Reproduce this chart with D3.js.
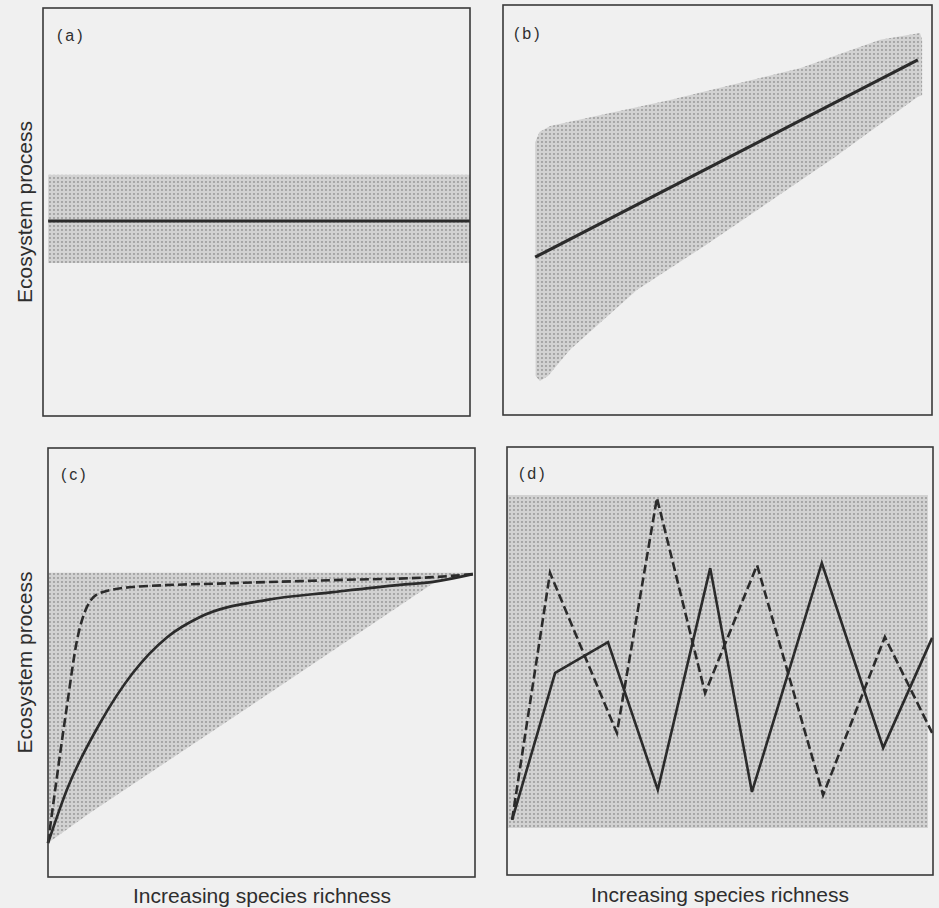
<!DOCTYPE html>
<html>
<head>
<meta charset="utf-8">
<script src="https://cdn.jsdelivr.net/npm/d3@7"></script>
<style>
  html, body { margin: 0; padding: 0; background: #f0f0f0; }
  svg { display: block; }
  text { font-family: "Liberation Sans", Arial, sans-serif; fill: #2e2e2e; }
</style>
</head>
<body>
<svg id="chart" width="939" height="908"></svg>
<script>
// ---- data (x: species richness 0-100, y: ecosystem process 0-100) ----
const panelLabels = ["(a)", "(b)", "(c)", "(d)"];
const yAxisLabel = "Ecosystem process";
const xAxisLabel = "Increasing species richness";

// (a) constant process, constant spread
const bandA = [{x: 1.2, lo: 37.5, hi: 59.1}, {x: 100, lo: 37.5, hi: 59.1}];
const lineA = [{x: 1.2, y: 47.8}, {x: 100, y: 47.8}];

// (b) linear increase with wide spread
const bandBUpper = [{x: 7.5, y: 66.5}, {x: 8.5, y: 69.0}, {x: 11.0, y: 70.5}, {x: 38.9, y: 76.8}, {x: 69.2, y: 84.6}, {x: 87.9, y: 91.5}, {x: 97.2, y: 93.2}, {x: 97.7, y: 91.5}];
const bandBLower = [{x: 97.7, y: 78.0}, {x: 96.7, y: 77.6}, {x: 77.4, y: 62.9}, {x: 46.6, y: 41.0}, {x: 31.2, y: 30.5}, {x: 15.6, y: 15.9}, {x: 10.5, y: 9.5}, {x: 8.6, y: 8.3}, {x: 7.6, y: 9.5}];
const lineB = [{x: 7.5, y: 38.5}, {x: 96.7, y: 86.6}];

// (c) saturating curves
const bandCUpper = [{x: 0, y: 70.9}, {x: 99.5, y: 70.9}];
const bandCLower = [{x: 99.5, y: 70.9}, {x: 90.2, y: 68.5}, {x: 59.0, y: 47.6}, {x: 9.8, y: 14.9}, {x: 0, y: 7.9}];
const solidC = [{x: 0, y: 7.9}, {x: 4.4, y: 20.3}, {x: 12.2, y: 35.9}, {x: 19.9, y: 47.6}, {x: 27.9, y: 55.9}, {x: 35.6, y: 60.6}, {x: 51.3, y: 64.6}, {x: 66.7, y: 66.4}, {x: 82.4, y: 68.1}, {x: 90.2, y: 68.8}, {x: 99.5, y: 70.6}];
const dashedC = [{x: 0, y: 7.9}, {x: 4.4, y: 39.6}, {x: 6.8, y: 55.2}, {x: 9.1, y: 62.9}, {x: 12.2, y: 66.2}, {x: 19.9, y: 67.6}, {x: 43.3, y: 68.5}, {x: 66.7, y: 69.2}, {x: 90.2, y: 69.9}, {x: 99.5, y: 70.6}];

// (d) idiosyncratic
const bandD = [{x: 0, lo: 11.0, hi: 88.8}, {x: 98.8, lo: 11.0, hi: 88.8}];
const solidD = [{x: 1.2, y: 12.9}, {x: 11.3, y: 47.2}, {x: 23.7, y: 54.4}, {x: 35.4, y: 19.9}, {x: 47.7, y: 71.7}, {x: 57.5, y: 19.4}, {x: 73.9, y: 72.9}, {x: 88.3, y: 29.7}, {x: 99.8, y: 55.4}];
const dashedD = [{x: 1.2, y: 12.9}, {x: 10.1, y: 70.6}, {x: 25.8, y: 33.2}, {x: 35.2, y: 88.1}, {x: 46.5, y: 42.5}, {x: 58.7, y: 72.4}, {x: 74.2, y: 18.7}, {x: 88.7, y: 55.6}, {x: 99.8, y: 33.2}];

// ---- layout ----
const frames = [
  {x0: 43, x1: 470, y0: 8, y1: 416},
  {x0: 503, x1: 932, y0: 5, y1: 415},
  {x0: 48, x1: 475, y0: 448, y1: 877},
  {x0: 507, x1: 933, y0: 447, y1: 875}
];
const labelPos = [[57, 41], [514, 39], [61, 480], [519, 479]];

const svg = d3.select("#chart");
const defs = svg.append("defs");
const pat = defs.append("pattern").attr("id", "stipple")
  .attr("patternUnits", "userSpaceOnUse").attr("width", 4).attr("height", 4);
pat.append("rect").attr("width", 4).attr("height", 4).attr("fill", "#d2d2d2");
pat.append("circle").attr("cx", 2).attr("cy", 2).attr("r", 1.05).attr("fill", "#9c9c9c");

svg.append("rect").attr("width", 939).attr("height", 908).attr("fill", "#f0f0f0");

const lineColor = "#2b2b2b";

function makeScales(f) {
  return {
    x: d3.scaleLinear().domain([0, 100]).range([f.x0, f.x1]),
    y: d3.scaleLinear().domain([0, 100]).range([f.y1, f.y0])
  };
}

frames.forEach((f, i) => {
  const s = makeScales(f);
  const g = svg.append("g");

  // bands
  if (i === 0 || i === 3) {
    const band = i === 0 ? bandA : bandD;
    g.append("path").datum(band)
      .attr("d", d3.area().x(d => s.x(d.x)).y0(d => s.y(d.lo)).y1(d => s.y(d.hi)))
      .attr("fill", "url(#stipple)");
  } else {
    const upper = i === 1 ? bandBUpper : bandCUpper;
    const lower = i === 1 ? bandBLower : bandCLower;
    const poly = upper.concat(lower);
    g.append("path").datum(poly)
      .attr("d", d3.line().x(d => s.x(d.x)).y(d => s.y(d.y)).curve(d3.curveLinearClosed))
      .attr("fill", "url(#stipple)");
  }

  const lin = d3.line().x(d => s.x(d.x)).y(d => s.y(d.y));
  const smooth = d3.line().x(d => s.x(d.x)).y(d => s.y(d.y)).curve(d3.curveMonotoneX);

  if (i === 0) {
    g.append("path").datum(lineA).attr("d", lin).attr("fill", "none")
      .attr("stroke", lineColor).attr("stroke-width", 3.2);
  } else if (i === 1) {
    g.append("path").datum(lineB).attr("d", lin).attr("fill", "none")
      .attr("stroke", lineColor).attr("stroke-width", 3.2);
  } else if (i === 2) {
    g.append("path").datum(dashedC).attr("d", smooth).attr("fill", "none")
      .attr("stroke", lineColor).attr("stroke-width", 2.6).attr("stroke-dasharray", "9,4");
    g.append("path").datum(solidC).attr("d", smooth).attr("fill", "none")
      .attr("stroke", lineColor).attr("stroke-width", 2.6);
  } else {
    g.append("path").datum(dashedD).attr("d", lin).attr("fill", "none")
      .attr("stroke", lineColor).attr("stroke-width", 2.6).attr("stroke-dasharray", "9,4")
      .attr("stroke-linejoin", "miter");
    g.append("path").datum(solidD).attr("d", lin).attr("fill", "none")
      .attr("stroke", lineColor).attr("stroke-width", 2.6).attr("stroke-linejoin", "miter");
  }

  // frame
  g.append("rect").attr("x", f.x0).attr("y", f.y0)
    .attr("width", f.x1 - f.x0).attr("height", f.y1 - f.y0)
    .attr("fill", "none").attr("stroke", "#3a3a3a").attr("stroke-width", 1.6);

  // panel label
  g.append("text").attr("x", labelPos[i][0]).attr("y", labelPos[i][1])
    .attr("font-size", 16).attr("letter-spacing", 3).attr("fill", "#4a4a4a")
    .text(panelLabels[i]);
});

// axis labels
[frames[0], frames[2]].forEach(f => {
  svg.append("text")
    .attr("transform", `translate(32, ${(f.y0 + f.y1) / 2}) rotate(-90)`)
    .attr("text-anchor", "middle").attr("font-size", 21)
    .text(yAxisLabel);
});
[[262, 903], [720, 902]].forEach(p => {
  svg.append("text").attr("x", p[0]).attr("y", p[1])
    .attr("text-anchor", "middle").attr("font-size", 21)
    .text(xAxisLabel);
});
</script>
</body>
</html>
